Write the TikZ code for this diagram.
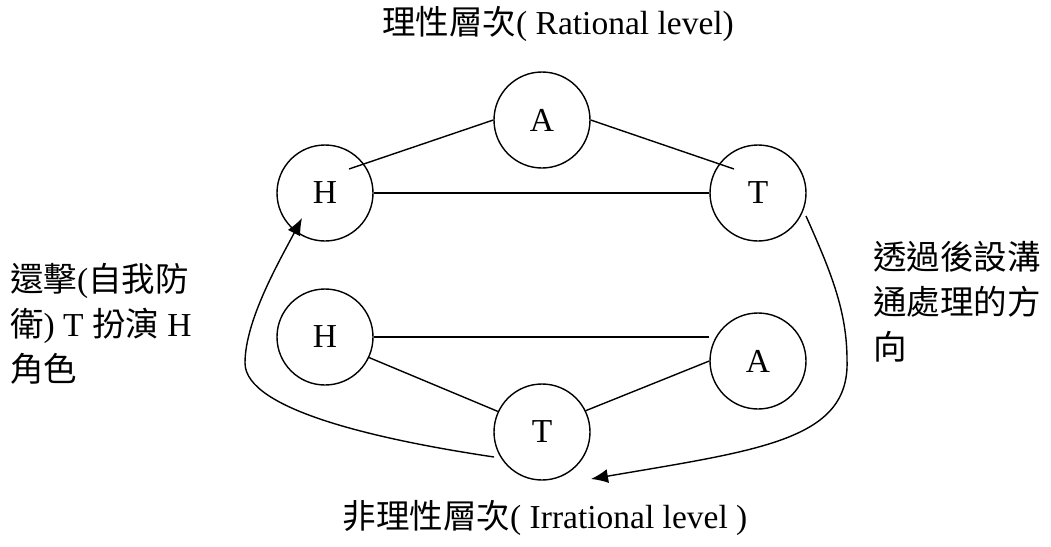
\documentclass[tikz,border=0pt]{standalone}
\usepackage{fontspec}
\setmainfont{Liberation Serif}
\newfontfamily\cjk{Noto Sans CJK TC}
\usetikzlibrary{positioning,arrows.meta,calc}

\begin{document}
\begin{tikzpicture}[
  x=1pt, y=-1pt,
  every node/.style={font=\fontsize{33.5}{45}\selectfont},
  %% role circle
  rl/.style={
    circle, draw, line width=1.4pt,
    minimum size=96pt, inner sep=0pt
  },
  %% plain connector between roles
  ln/.style={line width=1.4pt},
  %% curved transition arrows
  tr/.style={-{Latex[length=17pt,width=14pt]}, line width=1.4pt},
  %% side notes
  nt/.style={align=left, inner sep=0pt, anchor=west},
]
\useasboundingbox (0,0) rectangle (1051,546);

%%── Rational level ───────────────────────────────────────────────────────────
\node[rl] (rA) at (542,120) {A};
\node[rl] (rH) at (325,193) {H};
\node[rl] (rT) at (758,193) {T};

%%── Irrational level ─────────────────────────────────────────────────────────
\node[rl] (iH) at (325,337) {H};
\node[rl] (iA) at (758,361) {A};
\node[rl] (iT) at (542,432) {T};

%%── Level titles ─────────────────────────────────────────────────────────────
\node (rtit) at (558,24) {{\cjk 理性層次}( Rational level)};
\node (itit) at (545,518) {{\cjk 非理性層次}( Irrational level )};

%%── Side notes ───────────────────────────────────────────────────────────────
\node[nt] (lnote) at (10,324)
  {{\cjk 還擊}({\cjk 自我防}\\
   {\cjk 衛}) T {\cjk 扮演} H\\
   {\cjk 角色}};
\node[nt] (rnote) at (873,302)
  {{\cjk 透過後設溝}\\
   {\cjk 通處理的方}\\
   {\cjk 向}};

%%── Connectors inside each level ─────────────────────────────────────────────
\draw[ln] (rA.west) -- ($(rH)+(24,-24)$);
\draw[ln] (rA.east) -- ($(rT)+(-24,-24)$);
\draw[ln] (rH.east) -- (rT.west);

\draw[ln] (iH.east) -- (iH.east -| iA.west);
\draw[ln] (iH.-25) -- (iT.155);
\draw[ln] (iT.26) -- (iA.west);

%%── Transitions between levels ───────────────────────────────────────────────
%% regression: irrational T back up to rational H
\coordinate (ls) at ($(iT)+(-48,25)$);
\coordinate (le) at ($(rH)+(-23,25)$);
\draw[tr] (ls) .. controls (380,440) and (245,410) .. (245,363)
               .. controls (245,320) and (280,260) .. (le);

%% meta-communication: rational T down to irrational level
\coordinate (rs) at ($(rT)+(48,23)$);
\coordinate (re) at ($(iT)+(49,47)$);
\draw[tr] (rs) .. controls (830,270) and (847,310) .. (847,360)
               .. controls (850,440) and (760,450) .. (re);

\end{tikzpicture}
\end{document}
